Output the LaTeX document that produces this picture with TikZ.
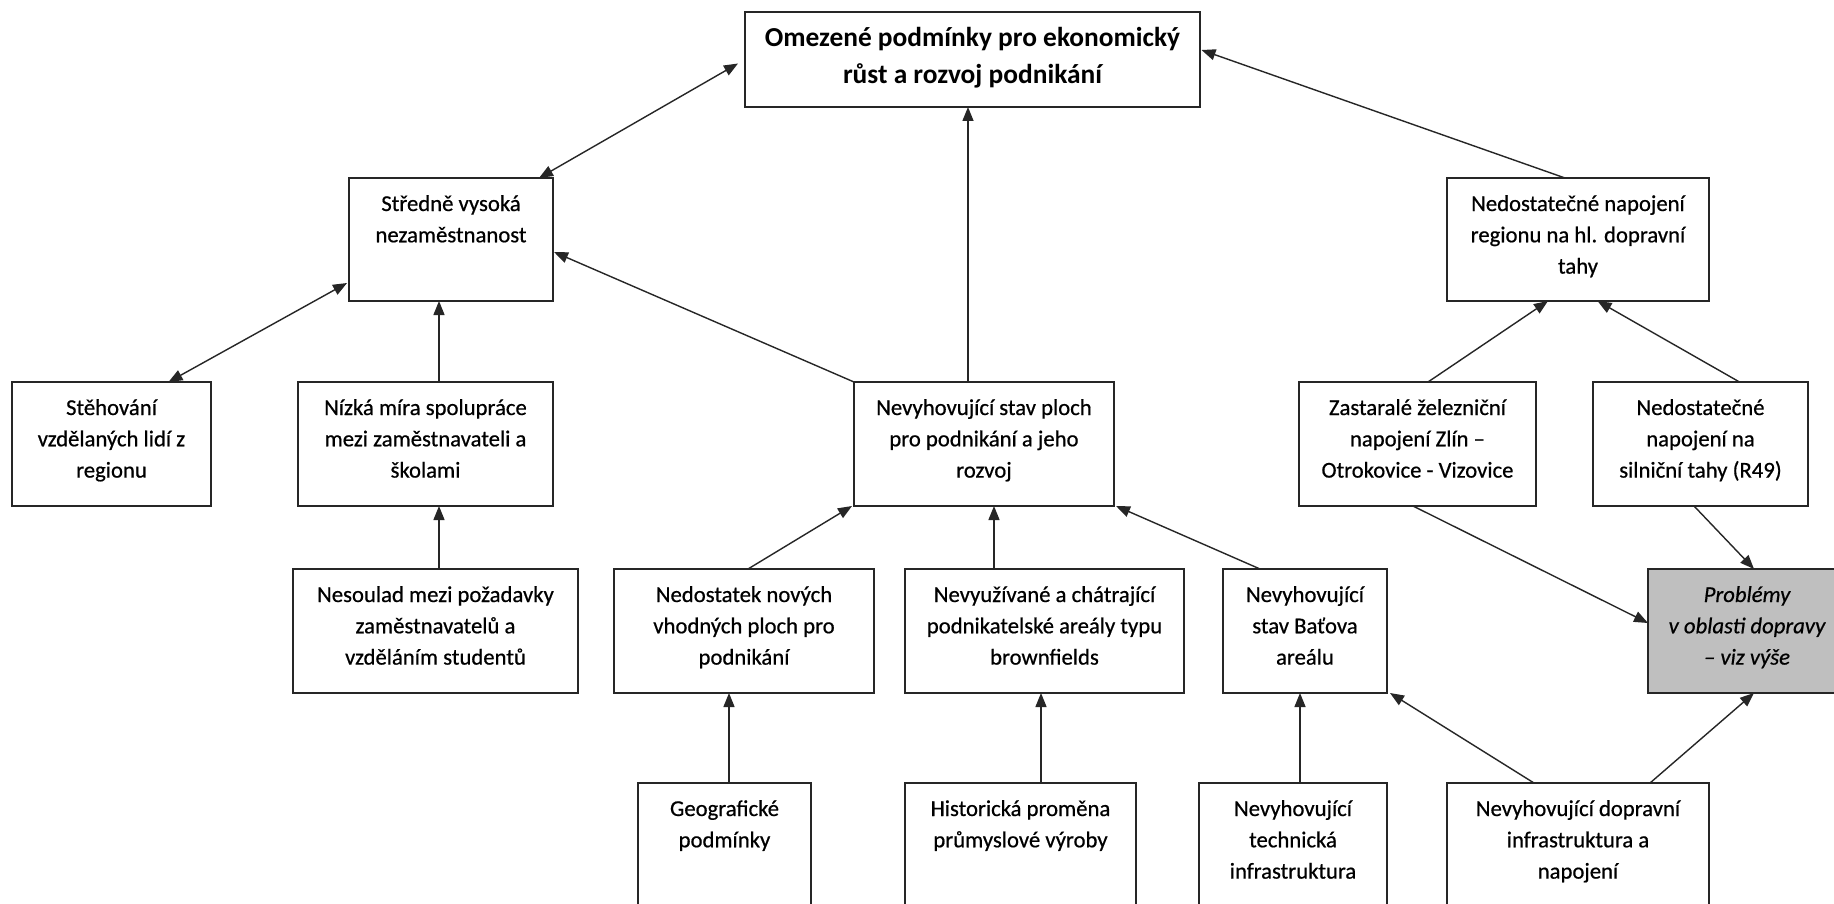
\documentclass[tikz,border=0pt]{standalone}
\usepackage{fontspec}
\setmainfont{Carlito}
\newfontfamily\semib{Carlito}[FakeBold=0.6]
\usetikzlibrary{calc,arrows.meta}
\newcommand{\boxtxt}[4]{\parbox[c][#2][t]{#1}{\centering\rule{0pt}{#3}#4}}
\tikzset{
  bx/.style={draw=black!85, line width=1.6pt, inner sep=0pt, outer sep=0pt, fill=white,
    font=\semib\fontsize{22.7}{31.3}\selectfont},
  topbx/.style={bx, font=\fontsize{27.4}{37}\selectfont\bfseries},
  graybx/.style={bx, fill=black!25, font=\semib\fontsize{22.7}{31.3}\selectfont\itshape},
  arr/.style={line width=1.4pt, draw=black!85, -{Triangle[length=14pt,width=11pt]}},
  darr/.style={line width=1.4pt, draw=black!85, {Triangle[length=14pt,width=11pt]}-{Triangle[length=14pt,width=11pt]}}
}
\begin{document}
\begin{tikzpicture}[x=1pt,y=-1pt]
\path[use as bounding box, clip] (0,0) rectangle (1834,904);
\fill[white] (0,0) rectangle (1834,904);
% row 0
\node[topbx] (A) at (972.5,59.5) {\boxtxt{455pt}{95pt}{35pt}{Omezené podmínky pro ekonomický\\růst a rozvoj podnikání}};
% row 1
\node[bx] (B) at (451,239.5) {\boxtxt{204pt}{123pt}{33pt}{Středně vysoká\\nezaměstnanost}};
\node[bx] (F) at (1578,239.5) {\boxtxt{262pt}{123pt}{33pt}{Nedostatečné napojení\\regionu na hl. dopravní\\tahy}};
% row 2
\node[bx] (C) at (111.5,444) {\boxtxt{199pt}{124pt}{33pt}{Stěhování\\vzdělaných lidí z\\regionu}};
\node[bx] (D) at (425.5,444) {\boxtxt{255pt}{124pt}{33pt}{Nízká míra spolupráce\\mezi zaměstnavateli a\\školami}};
\node[bx] (E) at (984,444) {\boxtxt{260pt}{124pt}{33pt}{Nevyhovující stav ploch\\pro podnikání a jeho\\rozvoj}};
\node[bx] (G) at (1417.5,444) {\boxtxt{237pt}{124pt}{33pt}{Zastaralé železniční\\napojení Zlín –\\Otrokovice - Vizovice}};
\node[bx] (H) at (1700.5,444) {\boxtxt{215pt}{124pt}{33pt}{Nedostatečné\\napojení na\\silniční tahy (R49)}};
% row 3
\node[bx] (I) at (435.5,631) {\boxtxt{285pt}{124pt}{33pt}{Nesoulad mezi požadavky\\zaměstnavatelů a\\vzděláním studentů}};
\node[bx] (J) at (744,631) {\boxtxt{260pt}{124pt}{33pt}{Nedostatek nových\\vhodných ploch pro\\podnikání}};
\node[bx] (K) at (1044.5,631) {\boxtxt{279pt}{124pt}{33pt}{Nevyužívané a chátrající\\podnikatelské areály typu\\brownfields}};
\node[bx] (L) at (1305,631) {\boxtxt{164pt}{124pt}{33pt}{Nevyhovující\\stav Baťova\\areálu}};
\node[graybx] (M) at (1747,631) {\boxtxt{198pt}{124pt}{33pt}{Problémy\\v oblasti dopravy\\– viz výše}};
% row 4
\node[bx] (N) at (724.5,854) {\boxtxt{173pt}{142pt}{33pt}{Geografické\\podmínky}};
\node[bx] (O) at (1020.5,854) {\boxtxt{231pt}{142pt}{33pt}{Historická proměna\\průmyslové výroby}};
\node[bx] (P) at (1293,854) {\boxtxt{188pt}{142pt}{33pt}{Nevyhovující\\technická\\infrastruktura}};
\node[bx] (Q) at (1578,854) {\boxtxt{262pt}{142pt}{33pt}{Nevyhovující dopravní\\infrastruktura a\\napojení}};
% connectors
\draw[darr] ($(B.north)+(88,0)$) -- ($(A.west)+(-7,4)$);
\draw[darr] ($(C.north)+(57,0)$) -- ($(B.west)+(-2,43.5)$);
\draw[arr] ($(D.north)+(13.5,0)$) -- ($(B.south)+(-12,0)$);
\draw[arr] (E.north west) -- ($(B.east)+(1,12.5)$);
\draw[arr] ($(E.north)+(-16,0)$) -- ($(A.south)+(-4.5,0)$);
\draw[arr] ($(F.north)+(-13,0)$) -- ($(A.east)+(1.5,-9.5)$);
\draw[arr] ($(G.north)+(10.5,0)$) -- ($(F.south)+(-30,0)$);
\draw[arr] ($(H.north)+(39,0)$) -- ($(F.south)+(19.5,0)$);
\draw[arr] ($(I.north)+(3.5,0)$) -- ($(D.south)+(13.5,0)$);
\draw[arr] ($(J.north)+(4,0)$) -- ($(E.south west)+(-2,0)$);
\draw[arr] ($(K.north)+(-50.5,0)$) -- ($(E.south)+(10,0)$);
\draw[arr] ($(L.north)+(-45,0)$) -- ($(E.south east)+(2,0)$);
\draw[arr] ($(G.south)+(-4.5,0)$) -- ($(M.west)+(0,-8)$);
\draw[arr] ($(H.south)+(-6.5,0)$) -- ($(M.north)+(7,0)$);
\draw[arr] ($(N.north)+(4.5,0)$) -- ($(J.south)+(-15,0)$);
\draw[arr] ($(O.north)+(20.5,0)$) -- ($(K.south)+(-3.5,0)$);
\draw[arr] ($(P.north)+(7,0)$) -- ($(L.south)+(-5,0)$);
\draw[arr] ($(Q.north)+(-44,0)$) -- ($(L.south east)+(3,0)$);
\draw[arr] ($(Q.north)+(72,0)$) -- ($(M.south)+(7,0)$);
\end{tikzpicture}
\end{document}
